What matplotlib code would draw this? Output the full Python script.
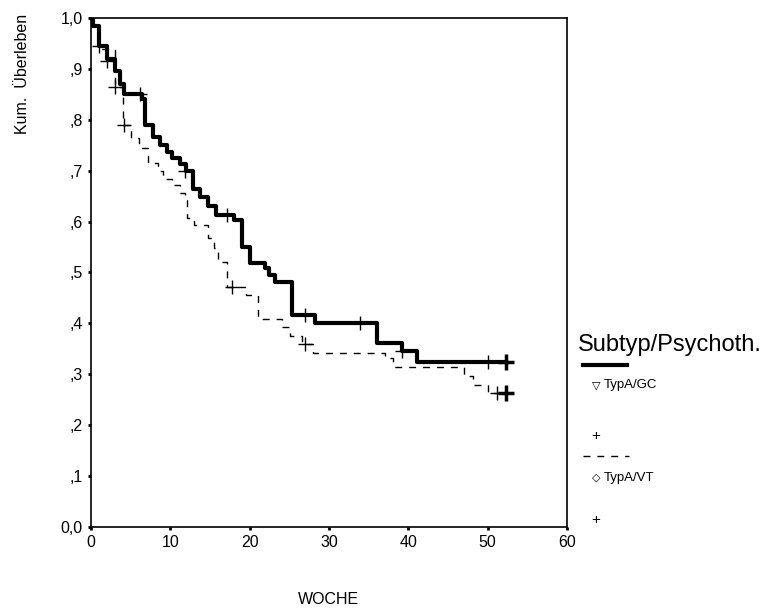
import matplotlib
matplotlib.use("Agg")
import matplotlib.pyplot as plt
from matplotlib.lines import Line2D

plt.rcParams['font.family'] = ['Liberation Sans', 'DejaVu Sans']

# Kaplan-Meier Schätzung, TypA/GC (durchgezogen)
gc_woche = [0, 0.3, 1.0, 2.0, 3.0, 3.6, 4.2, 6.4, 6.8, 7.8, 8.7, 9.6, 10.2, 11.2, 12.0,
            12.9, 13.8, 14.8, 15.7, 18.0, 19.0, 20.0, 21.9, 22.5, 23.2, 25.3, 28.2,
            36.0, 39.2, 41.1, 52.3]
gc_ueberleben = [1.0, 0.985, 0.945, 0.92, 0.895, 0.87, 0.85, 0.84, 0.79, 0.767, 0.75,
                 0.737, 0.725, 0.713, 0.70, 0.665, 0.648, 0.63, 0.613, 0.603, 0.55,
                 0.519, 0.509, 0.495, 0.481, 0.416, 0.40, 0.361, 0.346, 0.324, 0.324]
gc_zensiert_w = [1.0, 6.2, 11.9, 17.1, 27.0, 33.9, 39.2, 50.1, 52.3]
gc_zensiert_s = [0.945, 0.85, 0.70, 0.613, 0.416, 0.40, 0.346, 0.324, 0.324]

# TypA/VT (gestrichelt)
vt_woche = [0, 0.3, 1.0, 3.0, 4.0, 5.0, 6.0, 7.2, 8.5, 9.1, 10.2, 11.2, 11.8, 12.1, 13.0,
            14.8, 15.5, 16.0, 17.1, 19.5, 21.1, 24.1, 25.1, 26.6, 28.0, 37.1, 38.1,
            47.0, 48.2, 50.1, 52.3]
vt_ueberleben = [1.0, 0.985, 0.94, 0.865, 0.79, 0.765, 0.745, 0.715, 0.70, 0.684, 0.672,
                 0.656, 0.642, 0.607, 0.593, 0.568, 0.548, 0.52, 0.472, 0.456, 0.409,
                 0.393, 0.375, 0.36, 0.342, 0.332, 0.314, 0.297, 0.279, 0.263, 0.263]
vt_zensiert_w = [2.0, 3.0, 4.2, 17.8, 27.0, 51.2, 52.3]
vt_zensiert_s = [0.915, 0.865, 0.79, 0.472, 0.36, 0.263, 0.263]

x_ticks = [0, 10, 20, 30, 40, 50, 60]
y_ticks = [0.0, 0.1, 0.2, 0.3, 0.4, 0.5, 0.6, 0.7, 0.8, 0.9, 1.0]
y_labels = ['0,0', ',1', ',2', ',3', ',4', ',5', ',6', ',7', ',8', ',9', '1,0']

fig = plt.figure(figsize=(7.65, 6.14), dpi=100)
ax = fig.add_axes([0.119, 0.1417, 0.622, 0.829])

ax.step(gc_woche, gc_ueberleben, where='post', color='black', lw=3.0)
ax.plot(gc_zensiert_w, gc_zensiert_s, '+', color='black', ms=10, mew=1.0)
ax.step(vt_woche, vt_ueberleben, where='post', color='black', lw=1.0, linestyle=(0, (5, 5)))
ax.plot(vt_zensiert_w, vt_zensiert_s, '+', color='black', ms=10, mew=1.0)
# letzte zensierte Fälle fett
ax.plot([52.3], [0.324], '+', color='black', ms=11, mew=2.5)
ax.plot([52.3], [0.263], '+', color='black', ms=11, mew=2.5)

ax.set_xlim(0, 60)
ax.set_ylim(0, 1.0)
ax.set_xticks(x_ticks)
ax.set_yticks(y_ticks)
ax.set_yticklabels(y_labels)
ax.tick_params(direction='out', length=2, width=2, labelsize=11.5, pad=4)
for sp in ax.spines.values():
    sp.set_linewidth(1.2)

# Achsentitel
fig.text(0.430, 0.023, 'WOCHE', fontsize=11.5, ha='center', va='center')
fig.text(0.029, 0.977, 'Kum.  Überleben', fontsize=11.5, rotation=90,
         ha='center', va='top')

# Legende von Hand
fig.text(0.756, 0.438, 'Subtyp/Psychoth.', fontsize=17, ha='left', va='center')
fig.add_artist(Line2D([0.762, 0.820], [0.405, 0.405], color='black', lw=3.0,
                      transform=fig.transFigure))
fig.text(0.779, 0.373, '\u25bd', fontsize=8, ha='center', va='center',
         family=['DejaVu Sans'])
fig.text(0.789, 0.373, 'TypA/GC', fontsize=9.5, ha='left', va='center')
fig.text(0.779, 0.290, '+', fontsize=11, ha='center', va='center')
fig.add_artist(Line2D([0.762, 0.822], [0.258, 0.258], color='black', lw=1.0,
                      linestyle=(0, (5, 5)), transform=fig.transFigure))
fig.text(0.779, 0.222, '\u25c7', fontsize=8, ha='center', va='center',
         family=['DejaVu Sans'])
fig.text(0.789, 0.222, 'TypA/VT', fontsize=9.5, ha='left', va='center')
fig.text(0.779, 0.153, '+', fontsize=11, ha='center', va='center')

fig.savefig('out.png', dpi=100)
